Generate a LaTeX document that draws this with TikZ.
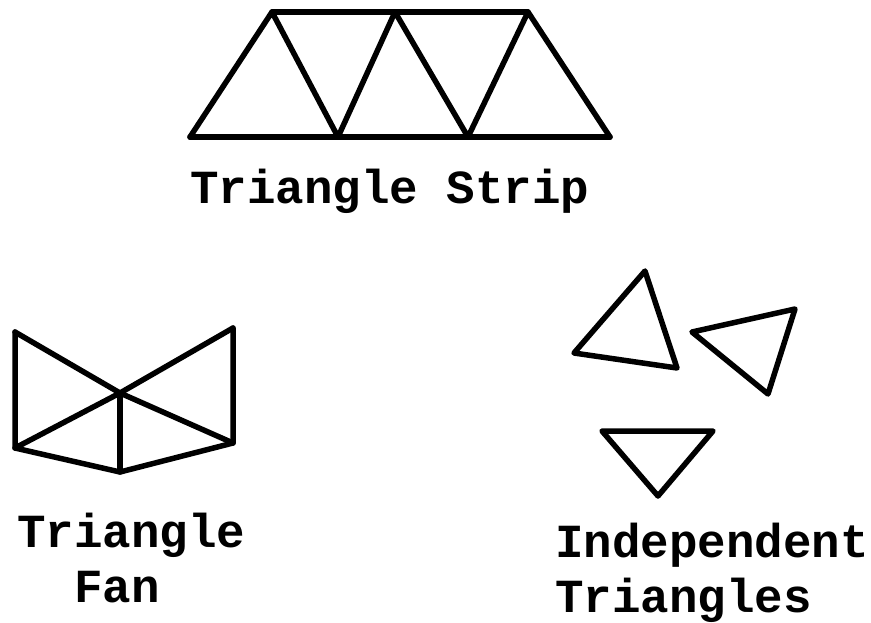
\documentclass[tikz,border=0pt]{standalone}
\usepackage{fontspec}
\setmonofont{Liberation Mono}
\begin{document}
\begin{tikzpicture}[x=1pt,y=-1pt,
  edge/.style={line width=5.5pt,line cap=round,line join=round},
  lbl/.style={anchor=base west,inner sep=0pt,font=\fontsize{47.5}{50}\selectfont\ttfamily\bfseries}]
\useasboundingbox (0,0) rectangle (871,622);
% Triangle strip
\coordinate (s1) at (190,137);
\coordinate (s2) at (272,12);
\coordinate (s3) at (338,137);
\coordinate (s4) at (395,12);
\coordinate (s5) at (468,137);
\coordinate (s6) at (528,12);
\coordinate (s7) at (610,137);
\draw[edge] (s1) -- (s7);
\draw[edge] (s2) -- (s6);
\draw[edge] (s1) -- (s2) -- (s3) -- (s4) -- (s5) -- (s6) -- (s7);
% Triangle fan
\coordinate (fc) at (120,393);
\coordinate (f1) at (15,332);
\coordinate (f2) at (15,448);
\coordinate (f3) at (120,472);
\coordinate (f4) at (233,443);
\coordinate (f5) at (233,328);
\draw[edge] (f1) -- (f2) -- (f3) -- (f4) -- (f5);
\draw[edge] (fc) -- (f1);
\draw[edge] (fc) -- (f2);
\draw[edge] (fc) -- (f3);
\draw[edge] (fc) -- (f4);
\draw[edge] (fc) -- (f5);
% Independent triangles
\coordinate (a1) at (645,271);
\coordinate (a2) at (574,353);
\coordinate (a3) at (677,368);
\draw[edge] (a1) -- (a2) -- (a3) -- cycle;
\coordinate (b1) at (692,332);
\coordinate (b2) at (795,309);
\coordinate (b3) at (768,394);
\draw[edge] (b1) -- (b2) -- (b3) -- cycle;
\coordinate (c1) at (602,431);
\coordinate (c2) at (713,431);
\coordinate (c3) at (658,496);
\draw[edge] (c1) -- (c2) -- (c3) -- cycle;
% Labels
\node[lbl] (ts) at (190,203) {Triangle Strip};
\node[lbl] (tf1) at (17,547) {Triangle};
\node[lbl] (tf2) at (17,602) {\ \ Fan};
\node[lbl] (ti1) at (555,557) {Independent};
\node[lbl] (ti2) at (555,612) {Triangles};
\end{tikzpicture}
\end{document}
